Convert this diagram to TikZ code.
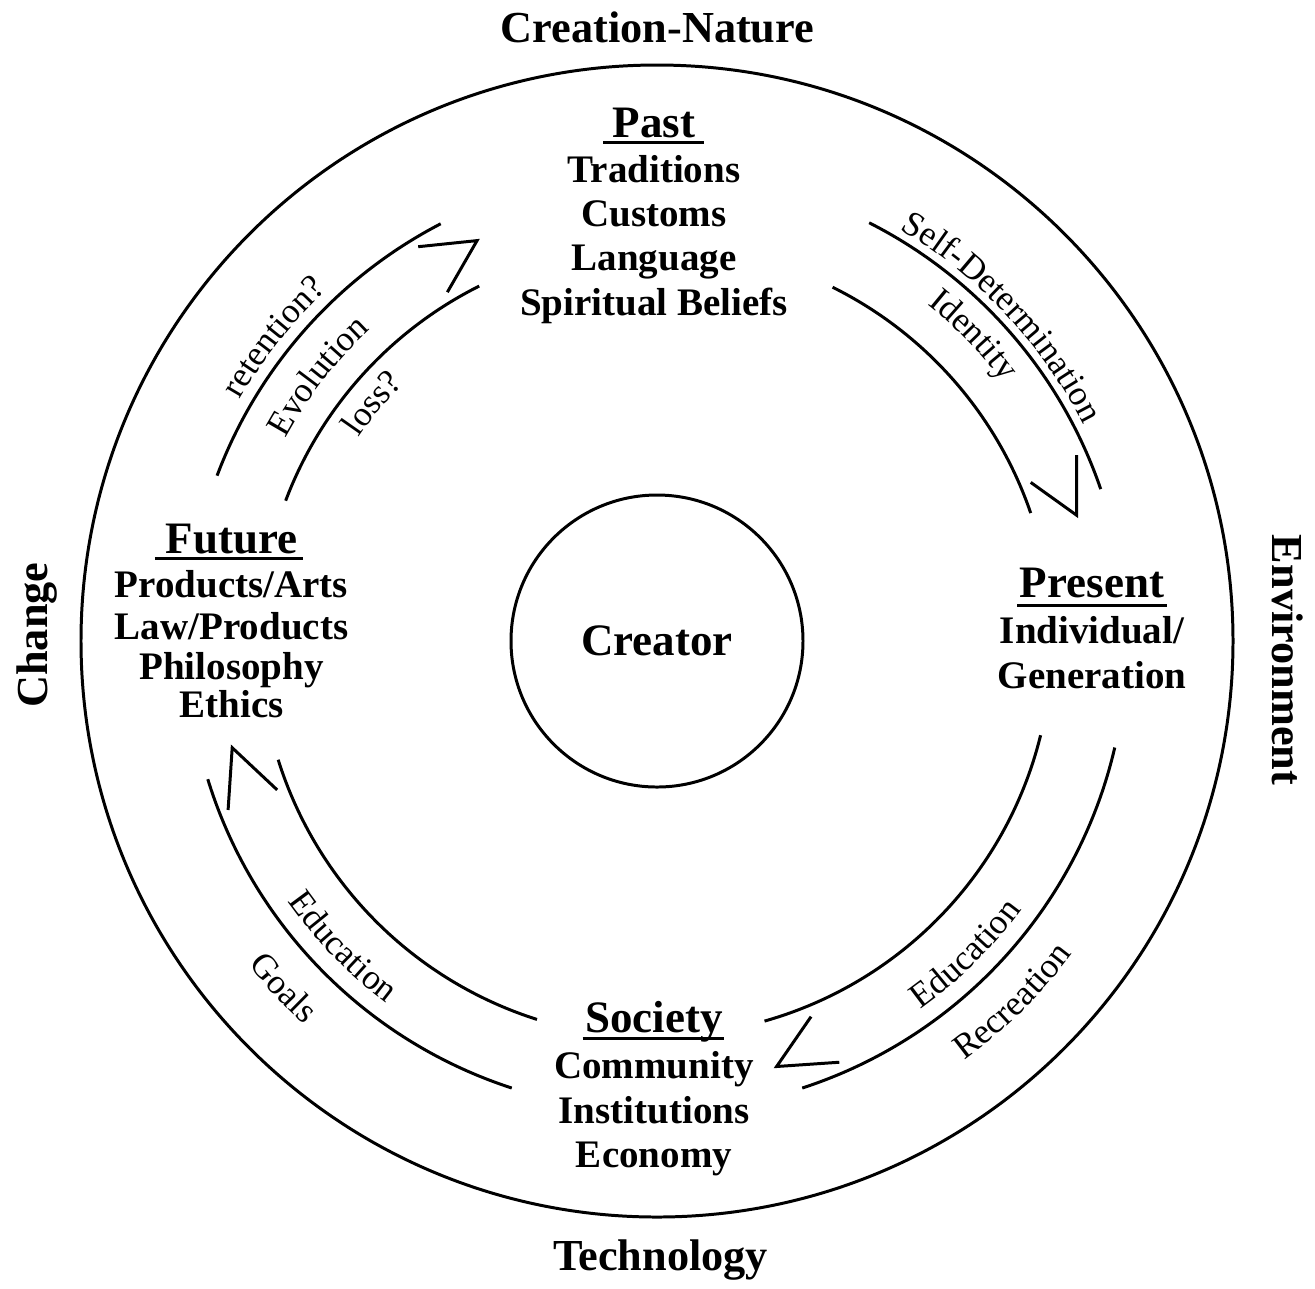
\documentclass[tikz,border=0pt]{standalone}
\usepackage{fontspec}
\setmainfont{Liberation Serif}
\usetikzlibrary{decorations.text}

\newcommand{\arcfont}{\fontsize{10}{12}\selectfont}

\tikzset{
  ring/.style={line width=0.85pt},
  outerlabel/.style={font=\fontsize{12.6}{15}\selectfont\bfseries, inner sep=0, anchor=base},
  headtext/.style={font=\fontsize{12.8}{15}\selectfont\bfseries, inner sep=0, anchor=base},
  bodytext/.style={font=\fontsize{11.1}{13}\selectfont\bfseries, inner sep=0, anchor=base},
  arclabel/.style={decorate, decoration={text along path, text align=center, text={|\arcfont|#1}}},
}

\begin{document}
\begin{tikzpicture}[x=0.1mm, y=0.1mm]
  \useasboundingbox (0,0) rectangle (1315,-1288);
  \coordinate (C) at (657,-641);

  % outer ring and centre
  \draw[ring] (C) circle[radius=576];
  \node[circle, draw, ring, minimum size=29.2mm, inner sep=0,
        font=\fontsize{12.8}{15}\selectfont\bfseries] (creator) at (C) {Creator};

  % labels round the ring
  \node[outerlabel] (nature) at (657.5,-42) {Creation-Nature};
  \node[outerlabel] (techno) at (660.5,-1270) {Technology};
  \node[outerlabel, rotate=90] (change) at (47,-635) {Change};
  \node[outerlabel, rotate=-90] (environ) at (1272,-660) {Environment};

  % past
  \node[headtext] (past) at (654,-137) {Past};
  \node[bodytext] (past1) at (654,-182) {Traditions};
  \node[bodytext] (past2) at (654,-226.5) {Customs};
  \node[bodytext] (past3) at (654,-270.5) {Language};
  \node[bodytext] (past4) at (654,-315) {Spiritual Beliefs};

  % present
  \node[headtext] (present) at (1092,-597) {Present};
  \node[bodytext] (present1) at (1092,-643) {Individual/};
  \node[bodytext] (present2) at (1092,-688) {Generation};

  % society
  \node[headtext] (society) at (654,-1032) {Society};
  \node[bodytext] (society1) at (654,-1078) {Community};
  \node[bodytext] (society2) at (654,-1123) {Institutions};
  \node[bodytext] (society3) at (654,-1167) {Economy};

  % future
  \node[headtext] (future) at (231.5,-553) {Future};
  \node[bodytext] (future1) at (231.5,-597) {Products/Arts};
  \node[bodytext] (future2) at (231.5,-639) {Law/Products};
  \node[bodytext] (future3) at (231.5,-679) {Philosophy};
  \node[bodytext] (future4) at (231.5,-717) {Ethics};

  % underlines
  \draw[ring] ([shift={(-9,-5)}]past.base west) -- ([shift={(8,-5)}]past.base east);
  \draw[ring] ([shift={(-2,-8)}]present.base west) -- ([shift={(2,-8)}]present.base east);
  \draw[ring] ([shift={(-2,-6)}]society.base west) -- ([shift={(1,-6)}]society.base east);
  \draw[ring] ([shift={(-10,-5)}]future.base west) -- ([shift={(5,-5)}]future.base east);

  \begin{scope}[shift={(C)}]
    % future -> past
    \draw[ring] (159.4:470) arc[start angle=159.4, end angle=117.4, radius=470];
    \draw[ring] (159.3:397) arc[start angle=159.3, end angle=116.6, radius=397];
    \draw[ring] (121.2:461) -- (114.2:439) -- (121.0:407);
    % past -> present
    \draw[ring] (63.1:469) arc[start angle=63.1, end angle=18.9, radius=469];
    \draw[ring] (63.6:395) arc[start angle=63.6, end angle=18.9, radius=395];
    \draw[ring] (23.9:459) -- (16.7:438) -- (23.0:406);
    % present -> society
    \draw[ring] (-13.1:470) arc[start angle=-13.1, end angle=-72, radius=470];
    \draw[ring] (-13.8:395) arc[start angle=-13.8, end angle=-74.2, radius=395];
    \draw[ring] (-66.6:459) -- (-74.3:442) -- (-67.7:406);
    % society -> future
    \draw[ring] (252:470) arc[start angle=252, end angle=197.1, radius=470];
    \draw[ring] (252.4:397) arc[start angle=252.4, end angle=197.4, radius=397];
    \draw[ring] (201.5:461) -- (194.1:438) -- (201.4:408);

    % words along the arrows
    \path[arclabel={retention?}] (171.6:482) arc[start angle=171.6, end angle=111.6, radius=482];
    \path[arclabel={Evolution}] (172:423) arc[start angle=172, end angle=112, radius=423];
    \path[arclabel={loss?}] (160.2:361) arc[start angle=160.2, end angle=120.2, radius=361];
    \path[arclabel={Self-Determination}] (78.2:478) arc[start angle=78.2, end angle=8.2, radius=478];
    \path[arclabel={Identity}] (69:432) arc[start angle=69, end angle=19, radius=432];
    \path[arclabel={Education}] (194.2:452) arc[start angle=194.2, end angle=254.2, radius=452];
    \path[arclabel={Goals}] (202.9:521) arc[start angle=202.9, end angle=242.9, radius=521];
    \path[arclabel={Education}] (284.6:453) arc[start angle=284.6, end angle=344.6, radius=453];
    \path[arclabel={Recreation}] (284.6:520) arc[start angle=284.6, end angle=344.6, radius=520];
  \end{scope}
\end{tikzpicture}
\end{document}
